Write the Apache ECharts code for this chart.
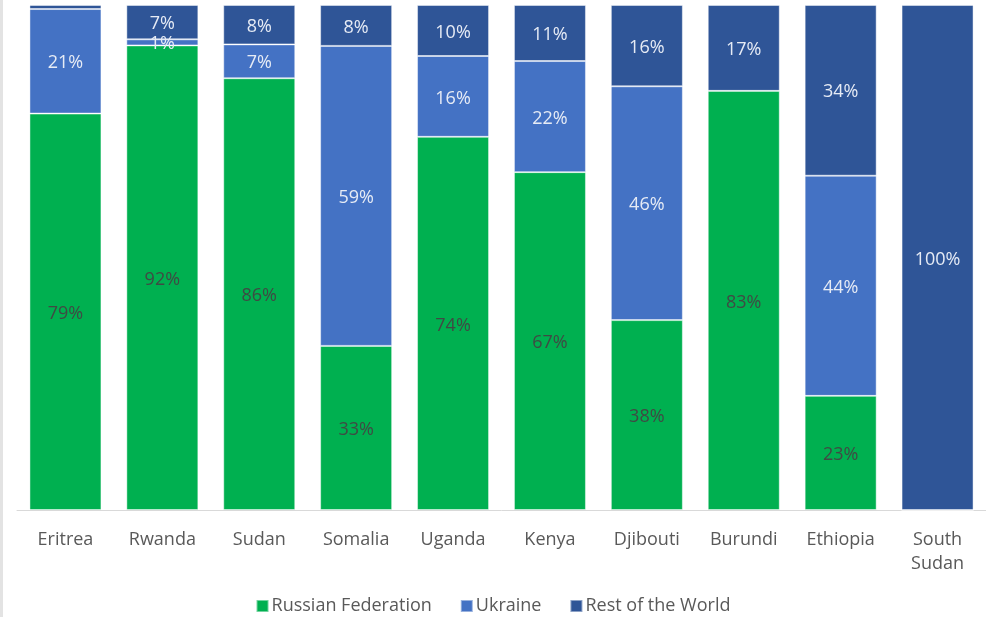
<!DOCTYPE html>
<html>
<head>
<meta charset="utf-8">
<style>html,body{margin:0;padding:0;background:#fff;}#c{width:986px;height:617px;}</style>
<script src="https://cdn.jsdelivr.net/npm/echarts@6/dist/echarts.min.js"></script>
</head>
<body>
<div id="c"></div>
<script>
const categories = ['Eritrea','Rwanda','Sudan','Somalia','Uganda','Kenya','Djibouti','Burundi','Ethiopia','South\nSudan'];
const russia = [78.5, 92.0, 85.5, 32.5, 73.9, 66.9, 37.6, 83.0, 22.6, 0];
const ukraine = [20.7, 1.2, 6.7, 59.4, 16.0, 22.0, 46.3, 0, 43.6, 0];
const restOfWorld = [0.8, 6.8, 7.8, 8.1, 10.1, 11.1, 16.1, 17.0, 33.8, 100];
const seriesNames = ['Russian Federation','Ukraine','Rest of the World'];
const colors = ['#00b050','#4472c4','#2f5597'];
const labelColors = ['#3f4a44','#e6ebf5','#e6ebf5'];
const font = '"Open Sans", "Noto Sans", sans-serif';

function mk(name, data, i) {
  return {
    name: name, type: 'bar', stack: 'total', data: data,
    barWidth: 72,
    itemStyle: { color: colors[i], borderColor: 'rgba(255,255,255,0.45)', borderWidth: 1 },
    label: {
      show: true, position: 'inside', offset: [0, 2], color: labelColors[i], fontSize: 18, fontFamily: font,
      formatter: p => p.value < 1 ? '' : Math.round(p.value) + '%'
    },
    emphasis: { disabled: true }
  };
}

const chart = echarts.init(document.getElementById('c'));
chart.setOption({
  animation: false,
  graphic: [{ type: 'rect', shape: { x: 0, y: 0, width: 3, height: 617 }, style: { fill: '#e3e3e3' } }],
  grid: { left: 17, right: -1, top: 5, bottom: 107 },
  legend: {
    bottom: -3, left: 'center', itemWidth: 12, itemHeight: 12, itemGap: 28,
    icon: 'rect',
    textStyle: { color: '#595959', fontSize: 18, fontFamily: font, padding: [0, 0, 0, -2] },
    data: seriesNames
  },
  xAxis: {
    type: 'category', data: categories,
    axisLine: { lineStyle: { color: '#d9d9d9', width: 1 } },
    axisTick: { show: false },
    axisLabel: { color: '#595959', fontSize: 18, fontFamily: font, margin: 18, lineHeight: 24, interval: 0 }
  },
  yAxis: { type: 'value', min: 0, max: 100, show: false, splitLine: { show: false } },
  series: [mk(seriesNames[0], russia, 0), mk(seriesNames[1], ukraine, 1), mk(seriesNames[2], restOfWorld, 2)]
});
</script>
</body>
</html>
